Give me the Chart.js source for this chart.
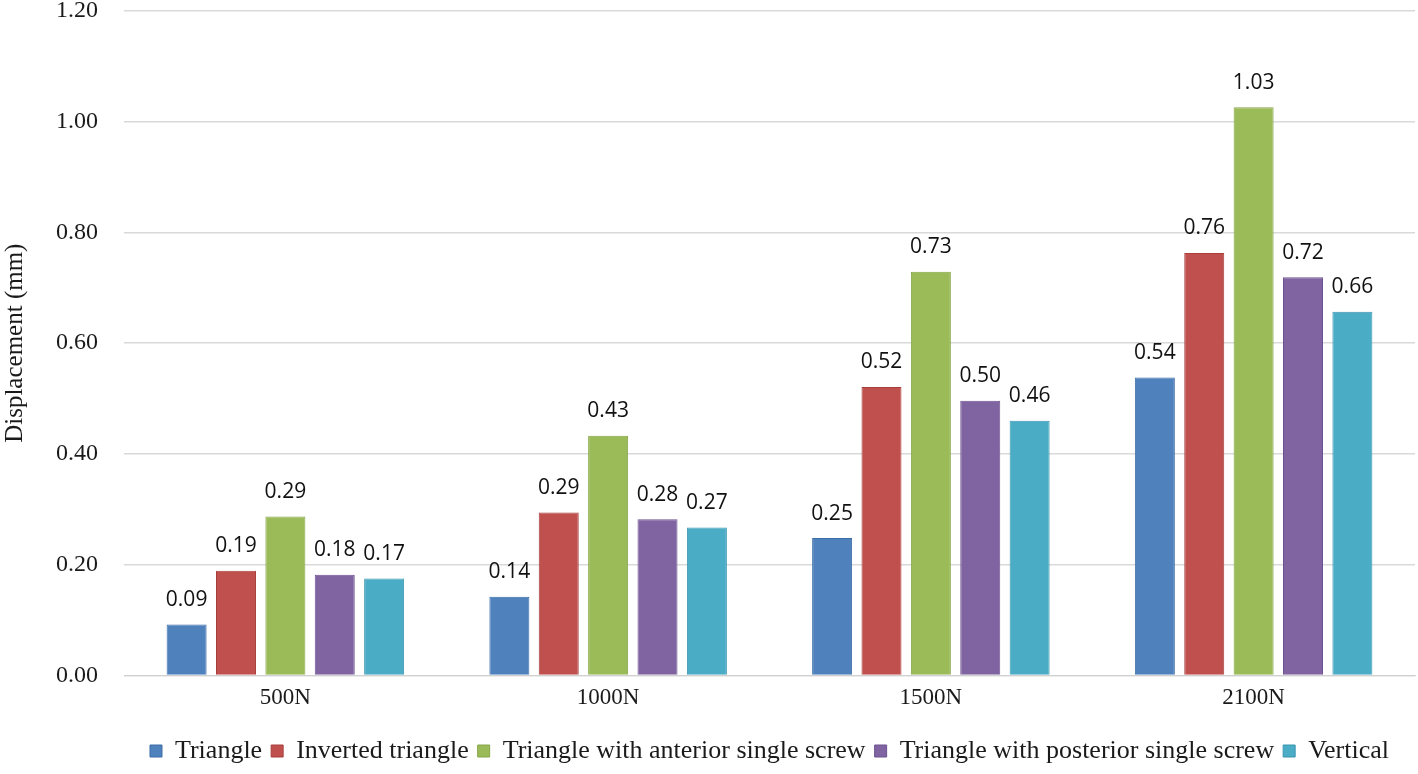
<!DOCTYPE html>
<html>
<head>
<meta charset="utf-8">
<script src="https://cdn.jsdelivr.net/npm/chart.js@4"></script>
<style>
    html, body { margin: 0; padding: 0; background: #fff; }
    #wrap { width: 1418px; height: 774px; }
</style>
</head>
<body>
<div id="wrap"><canvas id="dispChart"></canvas></div>
<script>
var loads = ["500N", "1000N", "1500N", "2100N"];
var seriesNames = ["Triangle", "Inverted triangle", "Triangle with anterior single screw", "Triangle with posterior single screw", "Vertical"];
var triangle = [0.092, 0.142, 0.248, 0.538];
var invertedTriangle = [0.189, 0.294, 0.521, 0.763];
var anteriorScrew = [0.287, 0.433, 0.729, 1.026];
var posteriorScrew = [0.182, 0.282, 0.496, 0.719];
var vertical = [0.175, 0.267, 0.460, 0.657];
var yTicks = [0, 0.2, 0.4, 0.6, 0.8, 1.0, 1.2];

var colors = ["#4f81bd", "#c0504d", "#9bbb59", "#8064a2", "#4bacc6"];
var borders = ["#3d6da6", "#a83f3c", "#86a548", "#6c5290", "#3996b0"];
var allSeries = [triangle, invertedTriangle, anteriorScrew, posteriorScrew, vertical];

var datasets = [];
for (var i = 0; i < allSeries.length; i++) {
    datasets.push({
        label: seriesNames[i],
        data: allSeries[i],
        backgroundColor: colors[i],
        borderColor: borders[i],
        borderWidth: 1,
        barPercentage: 0.81,
        categoryPercentage: 0.765
    });
}

// legend centred on the plot area + value above each bar
var valueLabels = {
    id: "valueLabels",
    afterLayout: function(chart) {
        var lg = chart.legend;
        if (lg) {
            lg.left = chart.chartArea.left;
            lg.right = chart.chartArea.right;
            lg.adjustHitBoxes();
        }
    },
    afterDatasetsDraw: function(chart) {
        var ctx = chart.ctx;
        ctx.save();
        ctx.font = "21px 'Open Sans', 'Noto Sans', sans-serif";
        ctx.fillStyle = "#111";
        ctx.textAlign = "center";
        ctx.textBaseline = "bottom";
        chart.data.datasets.forEach(function(ds, di) {
            chart.getDatasetMeta(di).data.forEach(function(bar, j) {
                ctx.fillText(ds.data[j].toFixed(2), bar.x, bar.y - 14);
            });
        });
        ctx.restore();
    }
};

var serif = "'Liberation Serif', 'Times New Roman', serif";

new Chart(document.getElementById("dispChart"), {
    type: "bar",
    data: { labels: loads, datasets: datasets },
    plugins: [valueLabels],
    options: {
        responsive: true,
        maintainAspectRatio: false,
        animation: false,
        layout: { padding: { left: 0, right: 3, top: 11, bottom: 0 } },
        plugins: {
            legend: {
                position: "bottom",
                labels: {
                    boxWidth: 12,
                    boxHeight: 12,
                    padding: 9,
                    color: "#1a1a1a",
                    font: { family: serif, size: 26 }
                }
            },
            tooltip: { enabled: false }
        },
        scales: {
            x: {
                grid: { display: false, drawTicks: false },
                border: { display: true, color: "#d0d0d0", width: 1 },
                ticks: { color: "#1a1a1a", padding: 9, font: { family: serif, size: 23 } },
                afterFit: function(axis) {
                    axis.height += 8;
                }
            },
            y: {
                min: 0,
                max: 1.2,
                afterBuildTicks: function(axis) {
                    axis.ticks = yTicks.map(function(v) { return { value: v }; });
                },
                afterFit: function(axis) {
                    axis.paddingTop = 0;
                    axis.paddingBottom = 0;
                },
                grid: { color: "#d9d9d9", lineWidth: 1.5, drawTicks: false },
                border: { display: false },
                title: {
                    display: true,
                    text: "Displacement (mm)",
                    color: "#1a1a1a",
                    padding: { top: 0, bottom: 0 },
                    font: { family: serif, size: 25 }
                },
                ticks: {
                    color: "#1a1a1a",
                    padding: 26,
                    font: { family: serif, size: 24 },
                    callback: function(v) { return Number(v).toFixed(2); }
                }
            }
        }
    }
});
</script>
</body>
</html>
